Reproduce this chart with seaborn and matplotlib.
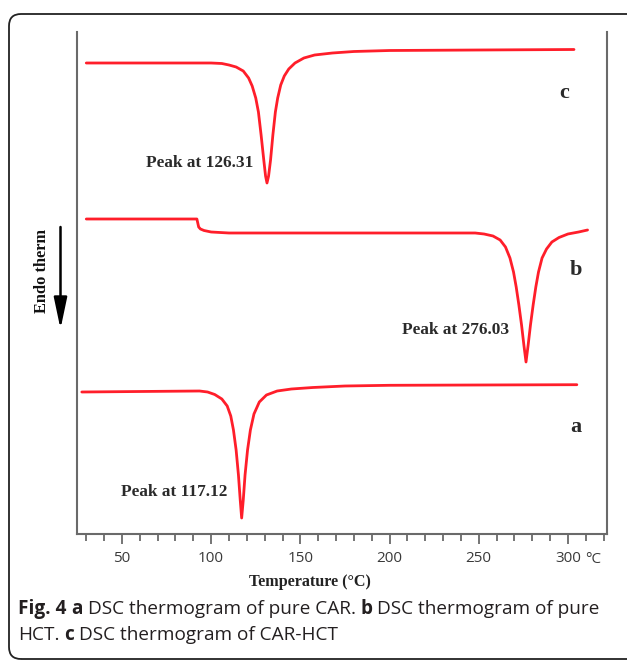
import matplotlib
matplotlib.use("Agg")
import matplotlib.pyplot as plt
import seaborn as sns
import pandas as pd
from matplotlib.patches import FancyBboxPatch

sns.set_theme(style="white")
plt.rcParams['font.family'] = ['DejaVu Sans']

# ---- data (temperature in °C, heat-flow signal in arbitrary units, endo down) ----
temp_c = [30, 100, 106, 110, 114, 118, 121, 123, 125, 126.5, 128, 129.5, 130.5, 131.3,
          132.2, 133.3, 134.6, 136, 137.3, 139, 141, 143.5, 147, 152, 158, 168, 180,
          200, 250, 303.4]
sig_c = [47.5, 47.5, 47.45, 47.3, 47.1, 46.7, 46.0, 45.2, 44.0, 42.6, 40.3, 37.8, 36.2, 35.5,
         36.2, 37.8, 40.3, 42.6, 44.0, 45.3, 46.2, 46.9, 47.5, 48.0, 48.3, 48.5, 48.65,
         48.75, 48.8, 48.85]

temp_b = [30, 92, 92.5, 93, 94, 96, 100, 110, 200, 248, 253, 258, 262, 265, 267.5, 269.5,
          271, 272.5, 274, 275.3, 276.5, 277.7, 279, 280.5, 282, 283.5, 285.5, 288, 291,
          295, 300, 306, 311]
sig_b = [31.9, 31.9, 31.5, 31.1, 30.9, 30.75, 30.6, 30.5, 30.5, 30.5, 30.4, 30.2, 29.8,
         29.1, 28.0, 26.6, 25.1, 23.3, 21.3, 19.3, 17.6, 19.3, 21.3, 23.3, 25.1, 26.6,
         28.0, 28.9, 29.6, 30.05, 30.4, 30.6, 30.8]

temp_a = [27.5, 60, 93.5, 98, 102, 106, 109, 111, 112.5, 114, 115.3, 116.3, 117.1, 118,
          119, 120.4, 122, 124, 127, 131, 137, 145, 157, 175, 200, 250, 305]
sig_a = [14.6, 14.65, 14.7, 14.6, 14.35, 13.9, 13.2, 12.2, 10.8, 8.8, 6.3, 3.8, 2.0, 3.8,
         6.3, 8.8, 10.8, 12.4, 13.6, 14.3, 14.7, 14.9, 15.05, 15.2, 15.27, 15.3, 15.33]

curve_names = ["a", "b", "c"]
peak_labels = ["Peak at 117.12", "Peak at 276.03", "Peak at 126.31"]
x_major = [50, 100, 150, 200, 250, 300]
x_major_labels = ["50", "100", "150", "200", "250", "300"]
x_minor = list(range(30, 330, 10))

df = pd.concat([
    pd.DataFrame({"T": temp_a, "signal": sig_a, "curve": "a"}),
    pd.DataFrame({"T": temp_b, "signal": sig_b, "curve": "b"}),
    pd.DataFrame({"T": temp_c, "signal": sig_c, "curve": "c"}),
], ignore_index=True)

W, H = 627, 662
fig = plt.figure(figsize=(W / 100, H / 100), dpi=100)
fig.patch.set_facecolor("white")

# axes placed in pixel terms
l, r, b, t = 77, 607, 534, 32
ax = fig.add_axes([l / W, (H - b) / H, (r - l) / W, (b - t) / H])
ax.set_facecolor("white")

red = "#ff1e2a"
for name in curve_names:
    sub = df[df["curve"] == name]
    sns.lineplot(data=sub, x="T", y="signal", sort=False, estimator=None,
                 color=red, lw=2.0, ax=ax, legend=False)

ax.set_xlim(24.8, 321.9)
ax.set_ylim(0.4, 50.6)
ax.set_xlabel("")
ax.set_ylabel("")
ax.set_yticks([])

spine_col = "#6a6a6a"
for s in ["left", "right", "bottom"]:
    ax.spines[s].set_color(spine_col)
    ax.spines[s].set_linewidth(1.5)
    ax.spines[s].set_visible(True)
ax.spines["top"].set_visible(False)

ax.set_xticks(x_major)
ax.set_xticklabels(x_major_labels)
ax.set_xticks([m for m in x_minor if m not in x_major], minor=True)
ax.tick_params(axis="x", which="major", direction="out", length=7, width=1.3,
               color=spine_col, bottom=True, pad=5, labelsize=11, labelcolor="#3a3a3a")
ax.tick_params(axis="x", which="minor", direction="out", length=5, width=1.3,
               color=spine_col, bottom=True)
for lab in ax.get_xticklabels():
    lab.set_family("Open Sans")

# unit after 300, on the tick labels' baseline
fig.text(593 / W, 1 - 563 / H, "°C", ha="center", va="baseline", fontsize=11,
         color="#3a3a3a", family="Open Sans")

# axis title
fig.text(310 / W, 1 - 582 / H, "Temperature (°C)", ha="center", va="center",
         fontsize=11.6, fontweight="bold", family="Liberation Serif", color="#222222")

# peak labels and curve letters (data coords)
serif = dict(family="Liberation Serif", fontweight="bold", color="#2a2a2a")
peak_pos = [(79.1, 4.6), (237.2, 20.8), (93.7, 37.5)]
for txt, (x, y) in zip(peak_labels, peak_pos):
    ax.text(x, y, txt, ha="center", va="center", fontsize=12.4, **serif)
letter_pos = [(304.5, 11.1), (304.5, 26.8), (297.8, 44.5)]
for txt, (x, y) in zip(curve_names, letter_pos):
    ax.text(x, y, txt, ha="center", va="center", fontsize=16, **serif)

# Endo therm label with arrow
fig.text(42 / W, 1 - 271 / H, "Endo therm", rotation=90, ha="center", va="center",
         fontsize=11.8, fontweight="bold", family="Liberation Serif", color="#111111")
ax.annotate("", xy=(60.5, H - 329), xytext=(60.5, H - 227),
            xycoords="figure pixels", textcoords="figure pixels",
            arrowprops=dict(arrowstyle="-|>,head_length=0.95,head_width=0.2",
                            mutation_scale=20, color="black", lw=1.8,
                            shrinkA=0, shrinkB=0))

# frame
frame = FancyBboxPatch((9 / 100, 3 / 100), (645 - 9) / 100, (648 - 3) / 100,
                       boxstyle="round,pad=0,rounding_size=0.12",
                       transform=fig.dpi_scale_trans, fill=False,
                       edgecolor="#222222", lw=1.3, clip_on=False)
fig.patches.append(frame)

# caption with mixed bold text
cap_lines = [
    [("Fig. 4", "bold"), ("a", "bold"), ("DSC thermogram of pure CAR.", "normal"),
     ("b", "bold"), ("DSC thermogram of pure", "normal")],
    [("HCT.", "normal"), ("c", "bold"), ("DSC thermogram of CAR-HCT", "normal")],
]
cap_y = [609, 635]
fs = 13.7
renderer = fig.canvas.get_renderer()
tmp1 = fig.text(0, 0, "xx", fontsize=fs, family="Open Sans")
tmp2 = fig.text(0, 0, "x x", fontsize=fs, family="Open Sans")
space_w = (tmp2.get_window_extent(renderer).width
           - tmp1.get_window_extent(renderer).width)
tmp1.remove(); tmp2.remove()
for line, yy in zip(cap_lines, cap_y):
    x = 18.0
    for txt, w in line:
        tt = fig.text(x / W, 1 - yy / H, txt, ha="left", va="center", fontsize=fs,
                      fontweight=w, family="Open Sans", color="#231f20")
        x += tt.get_window_extent(renderer).width + space_w

fig.savefig("out.png", dpi=100, facecolor="white")
